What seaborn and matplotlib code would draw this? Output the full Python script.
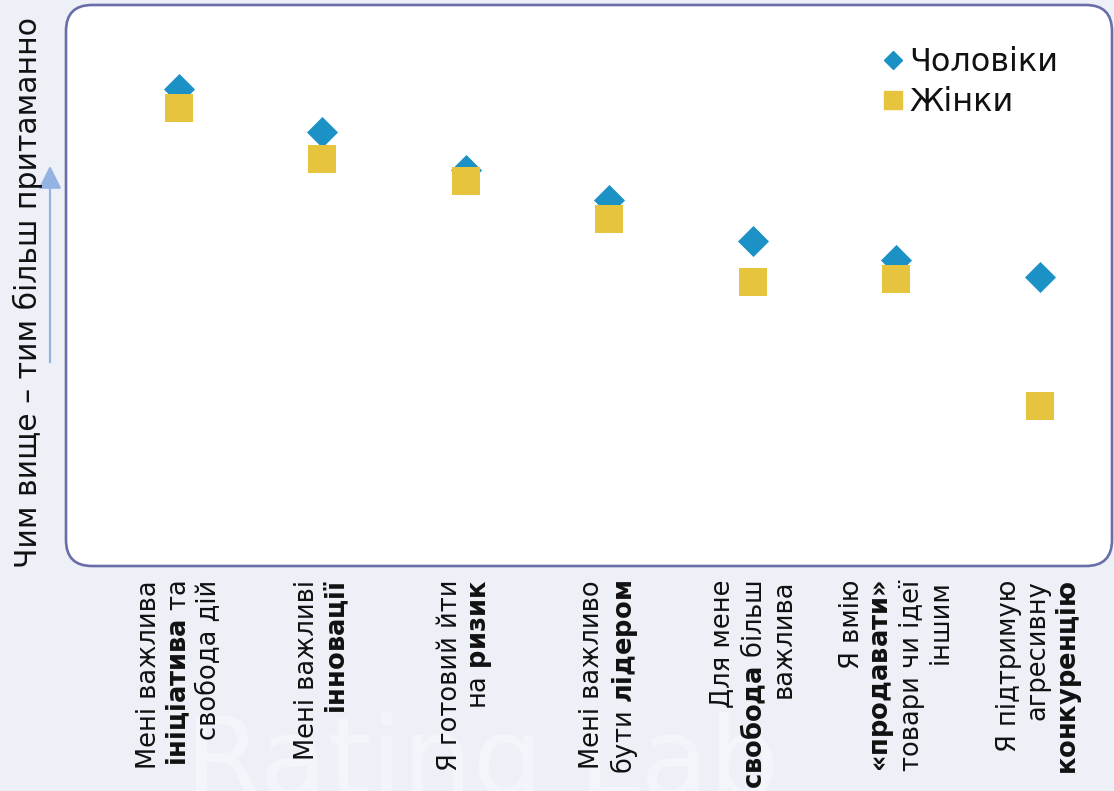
import matplotlib
matplotlib.use('Agg')

import matplotlib.pyplot as plt
from matplotlib.patches import FancyBboxPatch, FancyArrowPatch
from matplotlib.lines import Line2D
from matplotlib.transforms import IdentityTransform
import seaborn as sns
import pandas as pd

# data (0-100 scale, no ticks in the original)
statements = [
    "Мені важлива\n$\\mathbf{ініціатива}$ та\nсвобода дій",
    "Мені важливі\n$\\mathbf{інновації}$",
    "Я готовий йти\nна $\\mathbf{ризик}$",
    "Мені важливо\nбути $\\mathbf{лідером}$",
    "Для мене\n$\\mathbf{свобода}$ більш\nважлива",
    "Я вмію\n$\\mathbf{«продавати»}$\nтовари чи ідеї\nіншим",
    "Я підтримую\nагресивну\n$\\mathbf{конкуренцію}$",
]
men = [85.1, 77.3, 70.6, 65.2, 57.9, 54.5, 51.5]
women = [81.6, 72.5, 68.7, 61.8, 50.7, 51.1, 28.6]
series_names = ["Чоловіки", "Жінки"]

BG = "#edf0f7"
BLUE = "#1b91c6"
YELLOW = "#e6c43d"
BORDER = "#6a6ea8"
TXT = "#111111"

sns.set_theme(style="white")
plt.rcParams['font.family'] = ['DejaVu Sans']
plt.rcParams['mathtext.fontset'] = 'custom'
plt.rcParams['mathtext.rm'] = 'DejaVu Sans'
plt.rcParams['mathtext.bf'] = 'DejaVu Sans:bold'

W, H = 1114, 791
fig = plt.figure(figsize=(W / 100, H / 100), dpi=100, facecolor=BG)

# faint watermark
fig.text(185 / W, -0.035, "Rating Lab", fontsize=80, color="#f3f5fa",
         ha="left", va="bottom", zorder=0)

# rounded plot box
box = FancyBboxPatch((66, H - 566), 1112 - 66, 566 - 5,
                     boxstyle="round,pad=0,rounding_size=26",
                     facecolor="white", edgecolor=BORDER, linewidth=1.9,
                     transform=IdentityTransform(), zorder=1)
fig.add_artist(box)

ax = fig.add_axes([66 / W, (H - 566) / H, (1112 - 66) / W, (566 - 5) / H])
ax.set_zorder(2)
ax.patch.set_visible(False)
for sp in ax.spines.values():
    sp.set_visible(False)

df = pd.DataFrame({"x": range(len(statements)), "men": men, "women": women})
sns.scatterplot(data=df, x="x", y="men", marker="D", s=250, color=BLUE,
                linewidth=0, ax=ax, legend=False, zorder=3)
sns.scatterplot(data=df, x="x", y="women", marker="s", s=380, color=YELLOW,
                linewidth=0, ax=ax, legend=False, zorder=4)

ax.set_xlim(-0.787, 6.502)
ax.set_ylim(0, 100)
ax.set_yticks([])
ax.set_xticks(range(len(statements)))
ax.set_xticklabels(statements, rotation=90, ha="center", va="top",
                   multialignment="right", fontsize=18.5, color=TXT,
                   linespacing=1.15)
ax.tick_params(axis="x", length=0, pad=10)
ax.set_xlabel("")
ax.set_ylabel("")

handles = [
    Line2D([], [], marker="D", linestyle="", color=BLUE, markersize=9),
    Line2D([], [], marker="s", linestyle="", color=YELLOW, markersize=13),
]
leg = fig.legend(handles, series_names, loc="upper right",
                 bbox_to_anchor=(1087 / W, (H - 18) / H), frameon=False,
                 fontsize=23, handletextpad=0.1, labelspacing=0.3,
                 handlelength=0.8, labelcolor=TXT)
leg.set_zorder(5)

# y label and arrow
fig.text(28 / W, (H - 292) / H, "Чим вище – тим більш притаманно",
         rotation=90, ha="center", va="center", fontsize=21.5, color=TXT)
arrow = FancyArrowPatch((50, H - 365), (50, H - 163),
                        arrowstyle="-|>,head_length=7,head_width=3.5",
                        mutation_scale=2, color="#94b3e3", linewidth=1.6,
                        transform=IdentityTransform())
fig.add_artist(arrow)

plt.savefig("out.png", dpi=100, facecolor=BG)
plt.close()
